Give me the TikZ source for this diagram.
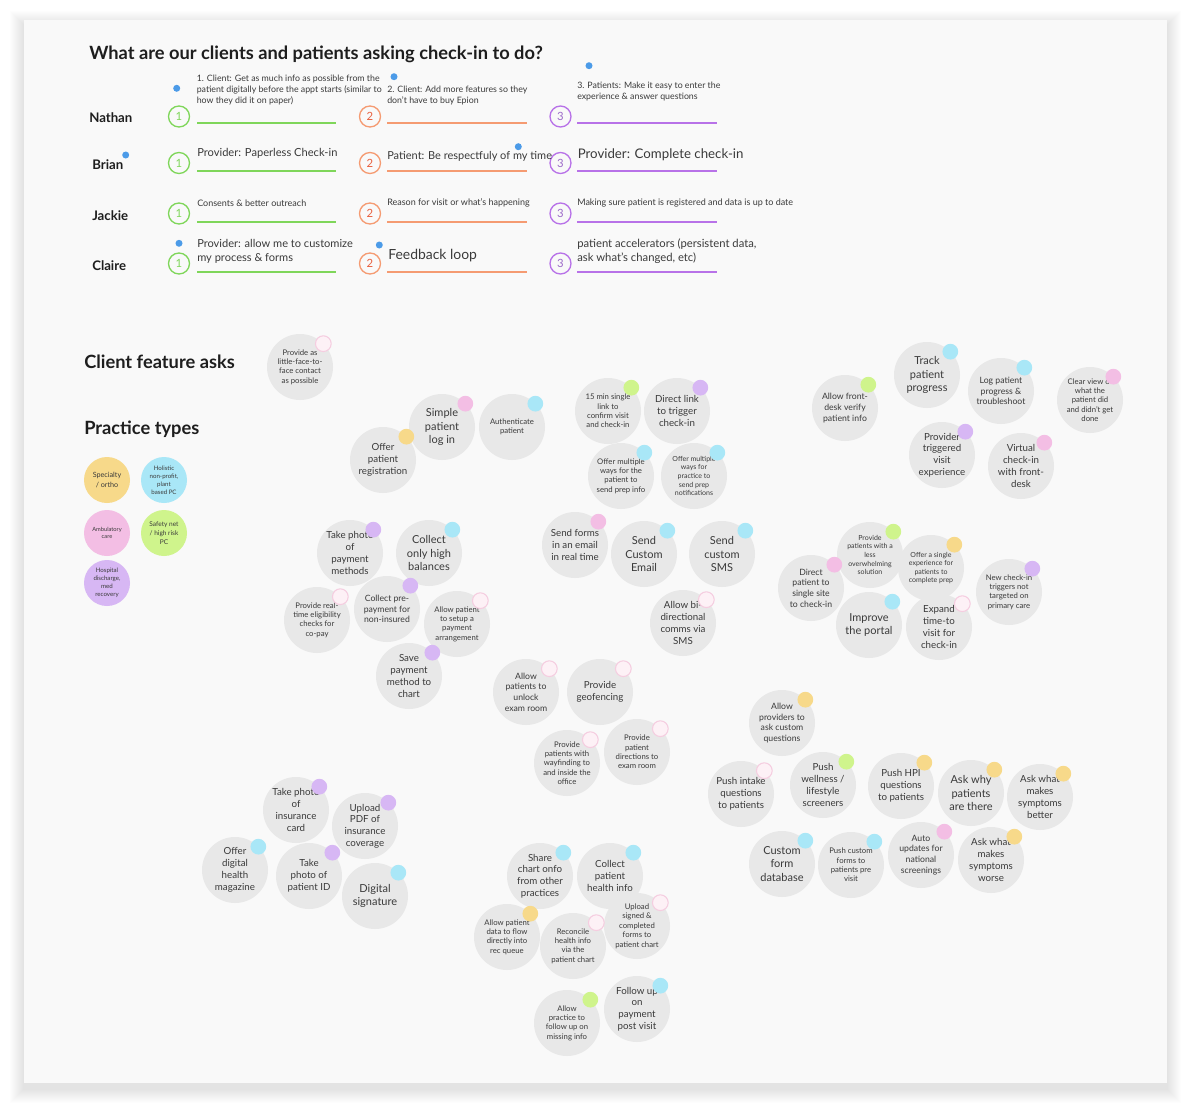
\documentclass[tikz,border=0pt]{standalone}
\usepackage{fontspec}
\setmainfont{Lato}
\definecolor{card}{HTML}{F9F9F9}
\definecolor{bubgray}{HTML}{E8E8E8}
\definecolor{txt}{HTML}{3A3A3A}
\definecolor{head}{HTML}{1E1E1E}
\definecolor{dcyan}{HTML}{A9E7F7}
\definecolor{dpink}{HTML}{F3BEE4}
\definecolor{dpurple}{HTML}{D7B7F4}
\definecolor{dgreen}{HTML}{CFF48C}
\definecolor{dyellow}{HTML}{F7D98A}
\definecolor{palefill}{HTML}{FDF1F6}
\definecolor{paleline}{HTML}{F5CDE0}
\definecolor{nblue}{HTML}{4C9BE8}
\definecolor{cgreen}{HTML}{7FD65A}
\definecolor{corange}{HTML}{F59B72}
\definecolor{cred}{HTML}{E8603F}
\definecolor{cpurple}{HTML}{B872E8}
\definecolor{cpurtxt}{HTML}{9D6BC9}
\begin{document}
\begin{tikzpicture}[x=0.75pt,y=-0.75pt,
  bub/.style={circle, fill=bubgray, minimum size=49.5pt, inner sep=0pt, outer sep=0pt, align=center, text=txt},
  pt/.style={circle, minimum size=34.5pt, inner sep=0pt, outer sep=0pt, align=center, text=txt},
  dotc/.style={circle, minimum size=11.8pt, inner sep=0pt, outer sep=0pt},
  dc/.style={dotc, fill=dcyan},
  dp/.style={dotc, fill=dpink},
  du/.style={dotc, fill=dpurple},
  dg/.style={dotc, fill=dgreen},
  dy/.style={dotc, fill=dyellow},
  dw/.style={dotc, fill=palefill, draw=paleline, line width=0.8pt},
  bdot/.style={circle, fill=nblue, minimum size=5.25pt, inner sep=0pt},
  numc/.style={circle, draw, line width=1pt, fill=card, minimum size=15.75pt, inner sep=0pt, font=\fontsize{8.5pt}{10pt}\selectfont},
  uline/.style={line width=1.2pt},
  fA/.style={font=\fontsize{5.25pt}{6.45pt}\selectfont},
  fB/.style={font=\fontsize{5.8pt}{7.05pt}\selectfont},
  fC/.style={font=\fontsize{6.5pt}{8pt}\selectfont},
  fD/.style={font=\fontsize{7.3pt}{8.85pt}\selectfont},
  fE/.style={font=\fontsize{8.25pt}{10pt}\selectfont},
  toptxt/.style={anchor=west, align=left, text=txt, inner sep=0pt},
  rowname/.style={anchor=west, inner sep=0pt, text=head, font=\fontsize{9.9pt}{11pt}\selectfont\bfseries},
  heading/.style={anchor=west, inner sep=0pt, text=head, font=\fontsize{13.7pt}{15pt}\selectfont\bfseries}
]
\useasboundingbox (0,0) rectangle (1192,1111);
\fill[white] (0,0) rectangle (1192,1111);
% shadow
\foreach \i in {1,...,14}{
  \fill[black,opacity=0.007] ({24-\i},{25-\i}) rectangle ({1167+\i},{1089+\i});
}
\fill[card] (24,20) rectangle (1167,1083);

% ---------- title & grid ----------
\node[anchor=west, inner sep=0pt, text=head, font=\fontsize{13.7pt}{16pt}\selectfont\bfseries] (title) at (89,54) {What are our clients and patients asking check-in to do?};

\node[rowname] (nathan) at (89,118) {Nathan};
\node[rowname] (brian) at (92,164.5) {Brian};
\node[rowname] (jackie) at (92,215.5) {Jackie};
\node[rowname] (claire) at (92,266) {Claire};

% underlines
\foreach \r/\y in {1/122.7,2/171,3/221.7,4/272}{
  \coordinate (ua\r) at (197,\y); \coordinate (ub\r) at (336,\y);
  \coordinate (uc\r) at (387,\y); \coordinate (ud\r) at (527,\y);
  \coordinate (ue\r) at (577,\y); \coordinate (uf\r) at (717,\y);
  \draw[uline, cgreen] (ua\r) -- (ub\r);
  \draw[uline, corange] (uc\r) -- (ud\r);
  \draw[uline, cpurple] (ue\r) -- (uf\r);
}
% number circles
\foreach \r/\y in {1/116.5,2/163,3/213.5,4/263.5}{
  \node[numc, draw=cgreen, text=cgreen] (na\r) at (179,\y) {1};
  \node[numc, draw=corange, text=cred] (nb\r) at (370,\y) {2};
  \node[numc, draw=cpurple, text=cpurtxt] (nc\r) at (560.5,\y) {3};
}

% row texts
\node[toptxt, font=\fontsize{6.6pt}{8.25pt}\selectfont] (t11) at (196.5,90.3) {1. Client: Get as much info as possible from the\\patient digitally before the appt starts (similar to\\how they did it on paper)};
\node[toptxt, font=\fontsize{6.6pt}{8.25pt}\selectfont] (t12) at (387,95.8) {2. Client: Add more features so they\\don't have to buy Epion};
\node[toptxt, font=\fontsize{6.6pt}{8.25pt}\selectfont] (t13) at (577,91.5) {3. Patients: Make it easy to enter the\\experience \& answer questions};

\node[toptxt, font=\fontsize{8.35pt}{9pt}\selectfont] (t21) at (197,153.5) {Provider: Paperless Check-in};
\node[toptxt, font=\fontsize{8.25pt}{9pt}\selectfont] (t22) at (387,156) {Patient: Be respectfuly of my time};
\node[toptxt, font=\fontsize{9.95pt}{11pt}\selectfont] (t23) at (577.5,155) {Provider: Complete check-in};

\node[toptxt, font=\fontsize{6.75pt}{7pt}\selectfont] (t31) at (197,203) {Consents \& better outreach};
\node[toptxt, font=\fontsize{6.75pt}{7pt}\selectfont] (t32) at (387,203) {Reason for visit or what's happening};
\node[toptxt, font=\fontsize{6.75pt}{7pt}\selectfont] (t33) at (577,203) {Making sure patient is registered and data is up to date};

\node[toptxt, font=\fontsize{8.3pt}{10.5pt}\selectfont] (t41) at (197,251) {Provider: allow me to customize\\my process \& forms};
\node[toptxt, font=\fontsize{10.45pt}{11pt}\selectfont] (t42) at (388,256) {Feedback loop};
\node[toptxt, font=\fontsize{8.45pt}{10.5pt}\selectfont] (t43) at (577,251) {patient accelerators (persistent data,\\ask what's changed, etc)};

% blue dots
\node[bdot] (bd1) at (176.7,88.3) {};
\node[bdot] (bd2) at (394,76.7) {};
\node[bdot] (bd3) at (589,65.7) {};
\node[bdot] (bd4) at (125.7,155) {};
\node[bdot] (bd5) at (518.3,146.7) {};
\node[bdot] (bd6) at (179,243.3) {};
\node[bdot] (bd7) at (379.3,245) {};

% ---------- headings ----------
\node[heading] (hca) at (84,362) {Client feature asks};
\node[heading] (hpt) at (84,429) {Practice types};

% practice types
\node[pt, fill=dyellow, font=\fontsize{5.4pt}{6.9pt}\selectfont] (p1) at (107,480) {Specialty\\/ ortho};
\node[pt, fill=dcyan, font=\fontsize{4.6pt}{6pt}\selectfont] (p2) at (164,480) {Holistic\\non-profit,\\plant\\based PC};
\node[pt, fill=dpink, font=\fontsize{4.3pt}{5.5pt}\selectfont] (p3) at (107,533) {Ambulatory\\care};
\node[pt, fill=dgreen, font=\fontsize{4.9pt}{6.5pt}\selectfont] (p4) at (164,533) {Safety net\\/ high risk\\PC};
\node[pt, fill=dpurple, font=\fontsize{4.6pt}{6.1pt}\selectfont] (p5) at (107,583) {Hospital\\discharge,\\med\\recovery};

% ---------- bubbles ----------
\node[bub,fB] (b1) at (300,367) {Provide as\\little-face-to-\\face contact\\as possible};
\node[bub,fD] (b2) at (383,460) {Offer\\patient\\registration};
\node[bub,fE] (b3) at (442,427) {Simple\\patient\\log in};
\node[bub,fB] (b4) at (512,427) {Authenticate\\patient};
\node[bub,fB] (b5) at (608,411) {15 min single\\link to\\confirm visit\\and check-in};
\node[bub,fD] (b6) at (677,411) {Direct link\\to trigger\\check-in};
\node[bub,fB] (b7) at (621,476) {Offer multiple\\ways for the\\patient to\\send prep info};
\node[bub,fA] (b8) at (694,476) {Offer multiple\\ways for\\practice to\\send prep\\notifications};
\node[bub,fD] (b9) at (575,545) {Send forms\\in an email\\in real time};
\node[bub,fE] (b10) at (644,554) {Send\\Custom\\Email};
\node[bub,fE] (b11) at (722,554) {Send\\custom\\SMS};
\node[bub,fD] (b12) at (683,623) {Allow bi-\\directional\\comms via\\SMS};
\node[bub,fC] (b13) at (845,408) {Allow front-\\desk verify\\patient info};
\node[bub,fE] (b14) at (927,375) {Track\\patient\\progress};
\node[bub,fC] (b15) at (1001,391) {Log patient\\progress \&\\troubleshoot};
\node[bub,fB] (b16) at (1090,400) {Clear view of\\what the\\patient did\\and didn't get\\done};
\node[bub,fD] (b17) at (942,455) {Provider\\triggered\\visit\\experience};
\node[bub,fD] (b18) at (1021,466) {Virtual\\check-in\\with front-\\desk};
\node[bub,fA] (b19) at (870,555) {Provide\\patients with a\\less\\overwhelming\\solution};
\node[bub,fA] (b20) at (931,568) {Offer a single\\experience for\\patients to\\complete prep};
\node[bub,fC] (b21) at (811,588) {Direct\\patient to\\single site\\to check-in};
\node[bub,fE] (b22) at (869,625) {Improve\\the portal};
\node[bub,fD] (b23) at (939,627) {Expand\\time-to\\visit for\\check-in};
\node[bub,fB] (b24) at (1009,592) {New check-in\\triggers not\\targeted on\\primary care};
\node[bub,fD] (b25) at (350,553) {Take photo\\of\\payment\\methods};
\node[bub,fE] (b26) at (429,553) {Collect\\only high\\balances};
\node[bub,fB] (b27) at (317,620) {Provide real-\\time eligibility\\checks for\\co-pay};
\node[bub,fC] (b28) at (387,609) {Collect pre-\\payment for\\non-insured};
\node[bub,fB] (b29) at (457,624) {Allow patient\\to setup a\\payment\\arrangement};
\node[bub,fD] (b30) at (409,676) {Save\\payment\\method to\\chart};
\node[bub,fC] (b31) at (526,692) {Allow\\patients to\\unlock\\exam room};
\node[bub,fD] (b32) at (600,692) {Provide\\geofencing};
\node[bub,fB] (b33) at (567,763) {Provide\\patients with\\wayfinding to\\and inside the\\office};
\node[bub,fB] (b34) at (637,752) {Provide\\patient\\directions to\\exam room};
\node[bub,fC] (b35) at (782,723) {Allow\\providers to\\ask custom\\questions};
\node[bub,fD] (b36) at (741,794) {Push intake\\questions\\to patients};
\node[bub,fD] (b37) at (823,785) {Push\\wellness /\\lifestyle\\screeners};
\node[bub,fD] (b38) at (901,786) {Push HPI\\questions\\to patients};
\node[bub,fE] (b39) at (971,793) {Ask why\\patients\\are there};
\node[bub,fD] (b40) at (1040,797) {Ask what\\makes\\symptoms\\better};
\node[bub,fE] (b41) at (782,864) {Custom\\form\\database};
\node[bub,fB] (b42) at (851,865) {Push custom\\forms to\\patients pre\\visit};
\node[bub,fC] (b43) at (921,855) {Auto\\updates for\\national\\screenings};
\node[bub,fD] (b44) at (991,860) {Ask what\\makes\\symptoms\\worse};
\node[bub,fD] (b45) at (296,810) {Take photo\\of\\insurance\\card};
\node[bub,fD] (b46) at (365,826) {Upload\\PDF of\\insurance\\coverage};
\node[bub,fD] (b47) at (235,870) {Offer\\digital\\health\\magazine};
\node[bub,fD] (b48) at (309,876) {Take\\photo of\\patient ID};
\node[bub,fE] (b49) at (375,896) {Digital\\signature};
\node[bub,fD] (b50) at (540,876) {Share\\chart onfo\\from other\\practices};
\node[bub,fD] (b51) at (610,876) {Collect\\patient\\health info};
\node[bub,fB] (b52) at (507,937) {Allow patient\\data to flow\\directly into\\rec queue};
\node[bub,fB] (b53) at (573,946) {Reconcile\\health info\\via the\\patient chart};
\node[bub,fB] (b54) at (637,926) {Upload\\signed \&\\completed\\forms to\\patient chart};
\node[bub,fB] (b55) at (567,1023) {Allow\\practice to\\follow up on\\missing info};
\node[bub,fD] (b56) at (637,1009) {Follow up\\on\\payment\\post visit};

% ---------- dots ----------
\foreach \n/\s in {b1/dw,b2/dy,b3/dp,b4/dc,b5/dg,b6/du,b7/dc,b8/dc,b9/dp,b10/dc,b11/dc,b12/dw,b13/dg,b14/dc,b15/dc,b16/dp,b17/du,b18/dp,b19/dg,b20/dy,b21/dp,b22/dc,b23/dw,b24/du,b25/du,b26/dc,b27/dw,b28/du,b29/dw,b30/du,b31/dw,b32/dw,b33/dw,b34/dw,b35/dy,b36/dw,b37/dg,b38/dy,b39/dy,b40/dy,b41/dc,b42/dc,b43/dp,b44/dy,b45/du,b46/du,b47/dc,b48/du,b49/dc,b50/dc,b51/dc,b52/dy,b53/dw,b54/dw,b55/dg,b56/dc}{
  \node[\s] (\n d) at (\n.north east) {};
}
\end{tikzpicture}
\end{document}
